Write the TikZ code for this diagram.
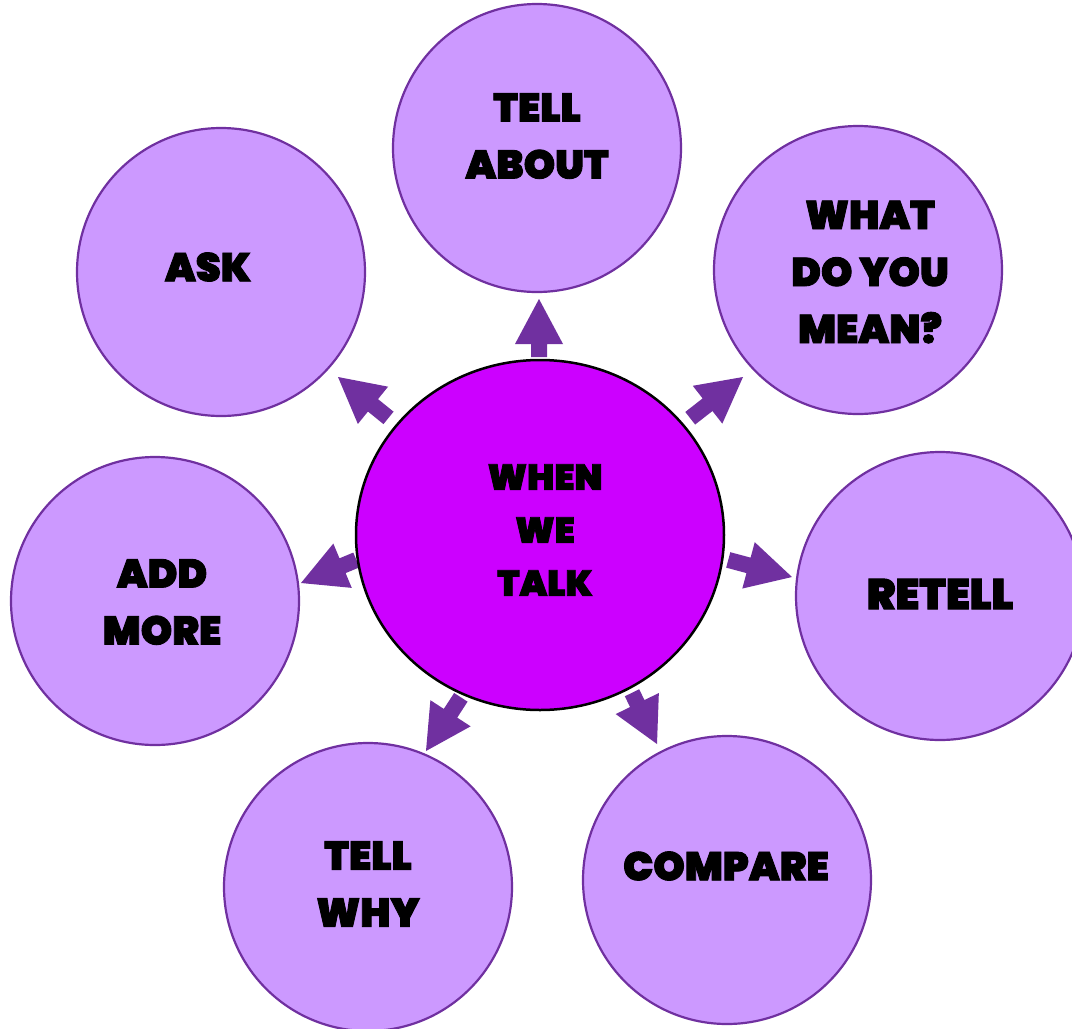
\documentclass[tikz,border=0pt]{standalone}
\usepackage{fontspec}
\newfontfamily\lblfont{Poppins Black}[FakeBold=2.2]
\usetikzlibrary{shapes.geometric}
\definecolor{outerfill}{HTML}{CC99FF}
\definecolor{outerline}{HTML}{7030A0}
\definecolor{centerfill}{HTML}{CC00FF}
\definecolor{arrowcol}{HTML}{7030A0}
\tikzset{
  outercirc/.style={circle, draw=outerline, fill=outerfill, line width=2.2pt, inner sep=0pt, minimum size=288pt},
  centerell/.style={ellipse, draw=black, fill=centerfill, line width=2.5pt, inner sep=0pt, minimum width=368pt, minimum height=350pt},
  lbl/.style={font=\lblfont\fontsize{40}{57}\selectfont, align=center, text=black, inner sep=0pt},
  clbl/.style={font=\lblfont\fontsize{36}{53}\selectfont, align=center, text=black, inner sep=0pt},
}
\newcommand\blockarrow[4]{%
  \fill[arrowcol, shift={(#1,#2)}, rotate=#3]
    (0,0) -- (-45,24) -- (-45,8) -- (-45-#4,8) -- (-45-#4,-8) -- (-45,-8) -- (-45,-24) -- cycle;}
\begin{document}
\begin{tikzpicture}[x=1pt, y=-1pt]
\useasboundingbox (0,0) rectangle (1072,1029);
\clip (0,0) rectangle (1072,1029);
\fill[white] (0,0) rectangle (1072,1029);
% outer circles
\node[outercirc] (about) at (537,148) {};
\node[outercirc] (mean) at (858,270) {};
\node[outercirc] (retell) at (940,596) {};
\node[outercirc] (compare) at (727,880) {};
\node[outercirc] (why) at (368,887) {};
\node[outercirc] (more) at (155,601) {};
\node[outercirc] (ask) at (221,272) {};
% arrows
\blockarrow{539}{299}{90}{13}
\blockarrow{743}{377}{38}{22}
\blockarrow{792}{577}{-15}{21}
\blockarrow{657}{744}{-64}{12}
\blockarrow{426}{751}{237}{19}
\blockarrow{301}{583}{202.6}{15}
\blockarrow{338}{377}{141}{20}
% center
\node[centerell] (center) at (540,535) {};
% labels
\node[clbl] (tcenter) at (545,530) {WHEN\\WE\\TALK};
\node[lbl] (tabout) at (537,136) {TELL\\ABOUT};
\node[lbl] (tmean) at (870,272) {WHAT\\DO YOU\\MEAN?};
\node[lbl, font=\lblfont\fontsize{43}{57}\selectfont] (tretell) at (940,594) {RETELL};
\node[lbl] (tcompare) at (726,866) {COMPARE};
\node[lbl] (twhy) at (368,884) {TELL\\WHY};
\node[lbl] (tmore) at (162,602) {ADD\\MORE};
\node[lbl] (task) at (208,267) {ASK};
\end{tikzpicture}
\end{document}
